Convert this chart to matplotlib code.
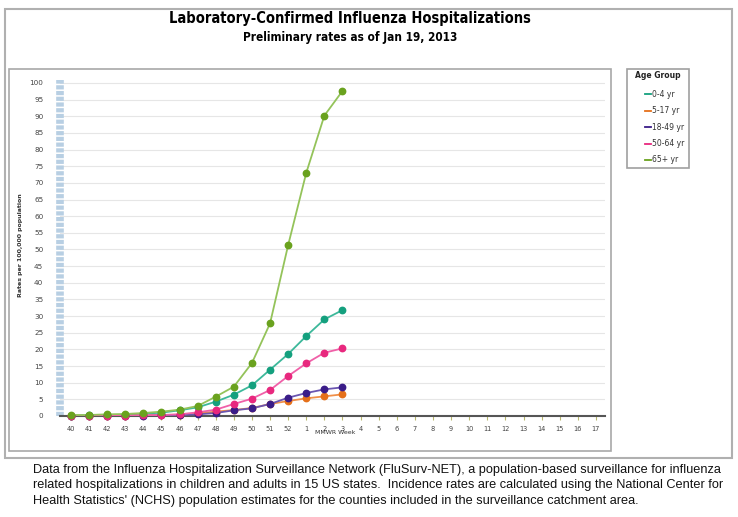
import matplotlib.pyplot as plt
from matplotlib.patches import Rectangle
from matplotlib.lines import Line2D

# MMWR weeks shown on the axis (2012-13 season)
weeks = [str(w) for w in range(40, 53)] + [str(w) for w in range(1, 18)]

# rates per 100,000, weeks 40 .. 3
rate_0_4 = [0.1, 0.2, 0.3, 0.4, 0.7, 1.0, 1.7, 2.6, 4.3, 6.4, 9.2, 13.9, 18.6, 24.0, 29.0, 31.8]
rate_5_17 = [0.0, 0.0, 0.1, 0.1, 0.2, 0.3, 0.4, 0.8, 1.3, 1.8, 2.4, 3.6, 4.5, 5.3, 5.9, 6.5]
rate_18_49 = [0.0, 0.0, 0.0, 0.1, 0.1, 0.2, 0.3, 0.5, 0.9, 1.7, 2.3, 3.6, 5.5, 6.9, 8.0, 8.6]
rate_50_64 = [0.0, 0.0, 0.1, 0.1, 0.2, 0.3, 0.5, 1.1, 1.9, 3.6, 5.2, 7.8, 12.0, 15.8, 19.0, 20.3]
rate_65 = [0.3, 0.3, 0.5, 0.6, 0.9, 1.3, 1.9, 3.0, 5.8, 8.8, 15.9, 27.8, 51.3, 73.0, 90.2, 97.6]

labels = ['0-4 yr', '5-17 yr', '18-49 yr', '50-64 yr', '65+ yr']
series = [rate_0_4, rate_5_17, rate_18_49, rate_50_64, rate_65]
line_colors = ['#3cb89a', '#f0904a', '#6a55b0', '#f060a8', '#94c35a']
mark_colors = ['#14a07e', '#e5701a', '#3a1c88', '#e8287e', '#6aa21e']

fig = plt.figure(figsize=(7.38, 5.17), dpi=100)
W, H = 738, 517

def box(x0, y0, x1, y1, color, lw):
    # pixel coords from top-left
    fig.add_artist(Rectangle((x0 / W, 1 - y1 / H), (x1 - x0) / W, (y1 - y0) / H,
                             transform=fig.transFigure, fill=False,
                             edgecolor=color, linewidth=lw))

box(5, 9, 732, 458, '#b0b0b0', 1.5)
box(9, 69, 611, 451, '#a8a8a8', 1.2)

fig.text(350 / W, 1 - 18 / H, 'Laboratory-Confirmed Influenza Hospitalizations',
         ha='center', va='center', fontsize=10.5, fontweight='bold',
         family='DejaVu Sans', fontstretch='condensed')
fig.text(350 / W, 1 - 38 / H, 'Preliminary rates as of Jan 19, 2013',
         ha='center', va='center', fontsize=8.5, fontweight='bold',
         family='DejaVu Sans', fontstretch='condensed')

ax = fig.add_axes([60 / W, 1 - 416 / H, (605 - 60) / W, (416 - 75) / H])
x_pos = list(range(len(weeks)))

for vals, lab, lc, mc in zip(series, labels, line_colors, mark_colors):
    ax.plot(x_pos[:len(vals)], vals, color=lc, linewidth=1.3, zorder=3, label=lab)
    ax.plot(x_pos[:len(vals)], vals, linestyle='none', marker='o', markersize=4.6,
            color=mc, zorder=4, clip_on=False)

# light blue dashed bar at the left of the plot
ax.plot([-0.6, -0.6], [0, 101], color='#b8cfe3', linewidth=5.5,
        dashes=(0.55, 0.2), solid_capstyle='butt', zorder=2, clip_on=False)

ax.set_xlim(-0.6, 29.5)
ax.set_ylim(0, 102.4)
ax.set_xticks(x_pos)
ax.set_xticklabels(weeks)
ax.set_yticks(range(0, 101, 5))
ax.tick_params(axis='x', labelsize=4.8, length=3, color='#b8b870', pad=4, colors='#444444')
ax.tick_params(axis='y', labelsize=5.2, length=0, pad=12, colors='#444444')
ax.grid(axis='y', color='#e6e6e6', linewidth=0.8)
ax.set_axisbelow(True)
for s in ['top', 'right', 'left']:
    ax.spines[s].set_visible(False)
ax.spines['bottom'].set_color('#555555')
ax.spines['bottom'].set_linewidth(1.5)

fig.text(21 / W, 1 - 245 / H, 'Rates per 100,000 population', rotation=90,
         ha='center', va='center', fontsize=4.5, fontweight='bold', color='#333333')
fig.text(335 / W, 1 - 433 / H, 'MMWR Week', ha='center', va='center',
         fontsize=4.5, color='#333333')

# legend box
box(627, 69, 689, 168, '#a0a0a0', 1.2)
fig.text(658 / W, 1 - 76 / H, 'Age Group', ha='center', va='center',
         fontsize=5.5, fontweight='bold', color='#222222')
for i, (lab, lc) in enumerate(zip(labels, mark_colors)):
    yy = 1 - (94 + i * 16.5) / H
    fig.add_artist(Line2D([645 / W, 651 / W], [yy, yy], color=lc, linewidth=1.3,
                          transform=fig.transFigure))
    fig.text(652 / W, yy, lab, ha='left', va='center', fontsize=5.5, color='#333333')

footer = ("Data from the Influenza Hospitalization Surveillance Network (FluSurv-NET), a population-based surveillance for influenza\n"
          "related hospitalizations in children and adults in 15 US states.  Incidence rates are calculated using the National Center for\n"
          "Health Statistics' (NCHS) population estimates for the counties included in the surveillance catchment area.")
fig.text(33 / W, 1 - 464 / H, footer, ha='left', va='top', fontsize=9.2,
         family='Liberation Sans', color='#111111', linespacing=1.38)

fig.savefig('out.png', dpi=100)
